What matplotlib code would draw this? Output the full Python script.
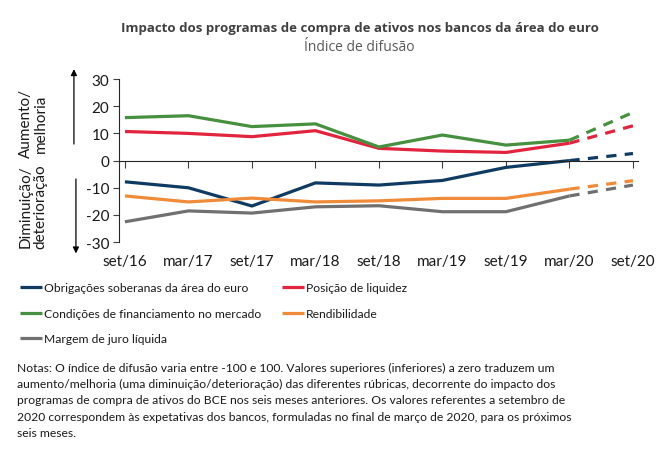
import matplotlib.pyplot as plt
import numpy as np

# data (semiannual, set/20 = expectations)
periods = ['set/16', 'mar/17', 'set/17', 'mar/18', 'set/18', 'mar/19', 'set/19', 'mar/20', 'set/20']
obrigacoes = [-7.8, -10.0, -16.7, -8.2, -9.0, -7.3, -2.5, 0.0, 2.6]
liquidez = [10.7, 10.0, 8.8, 11.0, 4.5, 3.5, 3.0, 6.4, 12.8]
financiamento = [15.8, 16.5, 12.5, 13.5, 5.0, 9.4, 5.7, 7.5, 17.7]
rendibilidade = [-13.0, -15.2, -13.8, -15.2, -14.8, -13.9, -13.9, -10.5, -7.4]
margem = [-22.5, -18.5, -19.3, -17.0, -16.6, -18.8, -18.8, -13.0, -9.0]

series = [
    ('Obrigações soberanas da área do euro', obrigacoes, '#0F3B63'),
    ('Posição de liquidez', liquidez, '#E3243F'),
    ('Condições de financiamento no mercado', financiamento, '#46903F'),
    ('Rendibilidade', rendibilidade, '#F08B3A'),
    ('Margem de juro líquida', margem, '#707070'),
]

plt.rcParams['font.family'] = ['Lato', 'DejaVu Sans']
txt = '#1a1a1a'

fig = plt.figure(figsize=(6.66, 4.52), dpi=100)
ax = fig.add_axes([0.179, 0.462, 0.779, 0.361])

x = np.arange(len(periods))
lw = 2.3
handles = []
for name, vals, col in series:
    h, = ax.plot(x[:-1], vals[:-1], color=col, lw=lw, solid_capstyle='butt')
    ax.plot(x[-2:], vals[-2:], color=col, lw=lw, dashes=(3.2, 2.6))
    handles.append(h)

ax.set_xlim(-0.09, 8.08)
ax.set_ylim(-30, 30)
ax.set_yticks([-30, -20, -10, 0, 10, 20, 30])
ax.set_yticklabels(['-30', '-20', '-10', '0', '10', '20', '30'], fontsize=11, color=txt)
ax.tick_params(axis='y', length=4, width=0.8, color='#404040', pad=3)

ax.spines['top'].set_visible(False)
ax.spines['right'].set_visible(False)
ax.spines['bottom'].set_position(('data', 0))
ax.spines['left'].set_color('#262626')
ax.spines['bottom'].set_color('#262626')
ax.set_xticks(x)
ax.set_xticklabels([])
ax.tick_params(axis='x', length=5, width=0.8, direction='out', color='#404040')

# category labels below the plot
for i, p in enumerate(periods):
    ax.text(i, -0.07, p, transform=ax.get_xaxis_transform(), ha='center', va='top',
            fontsize=11, color=txt)

# side labels with arrows
fig.text(0.05, 0.727, 'Aumento/\nmelhoria', rotation=90, ha='center', va='center',
         fontsize=11, color=txt, linespacing=1.1)
fig.text(0.05, 0.542, 'Diminuição/\ndeterioração', rotation=90, ha='center', va='center',
         fontsize=11, color=txt, linespacing=1.1)
arrow = dict(arrowstyle='-|>', color='black', lw=0.9, mutation_scale=9)
fig.add_artist(plt.Annotation('', xy=(0.111, 0.851), xytext=(0.111, 0.673),
                              xycoords='figure fraction', arrowprops=arrow))
fig.add_artist(plt.Annotation('', xy=(0.114, 0.431), xytext=(0.114, 0.608),
                              xycoords='figure fraction', arrowprops=arrow))

# titles
fig.text(0.54, 0.937, 'Impacto dos programas de compra de ativos nos bancos da área do euro',
         ha='center', va='center', fontsize=9.5, fontweight='bold', color='#404040',
         family=['Open Sans', 'DejaVu Sans'])
fig.text(0.54, 0.896, 'Índice de difusão', ha='center', va='center', fontsize=10,
         color='#595959', family=['Open Sans', 'DejaVu Sans'])

# legend, filled row by row as in the reference
order = [0, 2, 4, 1, 3]
leg = fig.legend([handles[i] for i in order], [series[i][0] for i in order],
                 loc='upper left', bbox_to_anchor=(0.03, 0.373), ncol=2, frameon=False,
                 fontsize=8.7, handlelength=1.85, handletextpad=0.15, columnspacing=1.7,
                 labelspacing=1.2, borderaxespad=0, borderpad=0)
for t in leg.get_texts():
    t.set_color(txt)

notes = ('Notas: O índice de difusão varia entre -100 e 100. Valores superiores (inferiores) a zero traduzem um\n'
         'aumento/melhoria (uma diminuição/deterioração) das diferentes rúbricas, decorrente do impacto dos\n'
         'programas de compra de ativos do BCE nos seis meses anteriores. Os valores referentes a setembro de\n'
         '2020 correspondem às expetativas dos bancos, formuladas no final de março de 2020, para os próximos\n'
         'seis meses.')
fig.text(0.025, 0.113, notes, ha='left', va='center', fontsize=8.7, color=txt, linespacing=1.58)

fig.savefig('out.png', dpi=100)
